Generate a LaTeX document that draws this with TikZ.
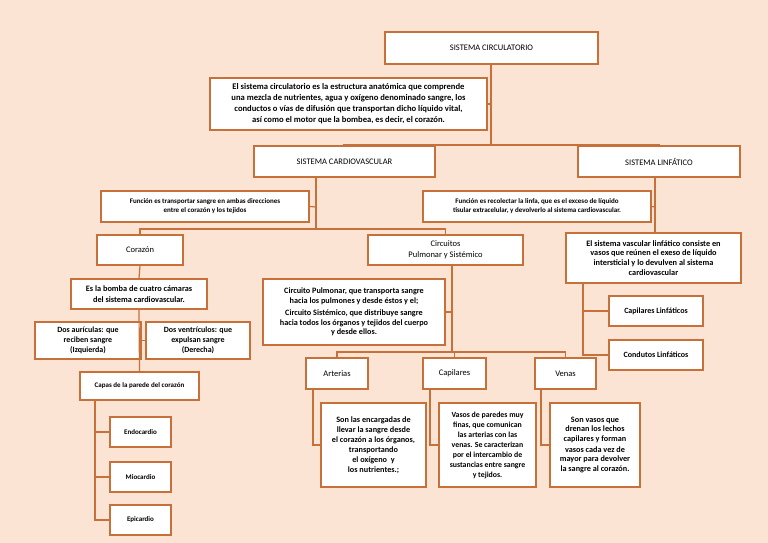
\documentclass[tikz,border=0pt]{standalone}
\usepackage{fontspec}
\setmainfont{Carlito}
\definecolor{bg}{HTML}{FCE4D4}
\definecolor{bc}{HTML}{C7703A}
\begin{document}
\begin{tikzpicture}[x=1pt,y=-1pt,
 box/.style={draw=bc,fill=white,line width=1.2pt,align=center,inner sep=1pt,font=\fontsize{8.5}{11}\selectfont},
 sm/.style={font=\fontsize{7}{9}\selectfont\bfseries},
 ln/.style={draw=bc,line width=1.2pt}]
\fill[bg] (0,0) rectangle (768,543);
\useasboundingbox (0,0) rectangle (768,543);
\newcommand\bx[7]{\node[box,#7,minimum width=#4-#2,minimum height=#5-#3] (#1) at ({(#2+#4)/2},{(#3+#5)/2}) {#6};}
\bx{top}{385}{32}{598}{64}{SISTEMA CIRCULATORIO}{}
\bx{intro}{210}{78}{487}{130}{El sistema circulatorio es la estructura anatómica que comprende\\una mezcla de nutrientes, agua y oxígeno denominado sangre, los\\conductos o vías de difusión que transportan dicho líquido vital,\\así como el motor que la bombea, es decir, el corazón.}{font=\fontsize{8.6}{11}\selectfont\bfseries}
\bx{cardio}{254}{146}{435}{177}{SISTEMA CARDIOVASCULAR}{}
\bx{linf}{578}{146}{740}{177}{SISTEMA LINFÁTICO}{}
\bx{f1}{101}{191}{309}{222}{Función es transportar sangre en ambas direcciones\\entre el corazón y los tejidos}{sm}
\bx{f2}{423}{191}{651}{222}{Función es recolectar la linfa, que es el exceso de líquido\\tisular extracelular, y devolverlo al sistema cardiovascular.}{sm}
\bx{cor}{97}{235}{183}{265}{Corazón}{}
\bx{circ}{368}{235}{523}{265}{Circuitos\\Pulmonar\ y Sistémico}{}
\bx{vasc}{566}{233}{741}{283}{El sistema vascular linfático consiste en\\vasos que reúnen el exeso de líquido\\intersticial y lo devulven al sistema\\cardiovascular}{font=\fontsize{8.3}{9.8}\selectfont\bfseries}
\bx{bomba}{71}{279}{207}{309}{Es la bomba de cuatro cámaras\\del sistema cardiovascular.}{font=\fontsize{8.3}{10.5}\selectfont\bfseries}
\bx{pulm}{263}{279}{445}{345}{Circuito Pulmonar, que transporta sangre\\hacia los pulmones y desde éstos y el;\\[2pt]Circuito Sistémico, que distribuye sangre\\hacia todos los órganos y tejidos del cuerpo\\y desde ellos.}{font=\fontsize{8.2}{9.8}\selectfont\bfseries}
\bx{capl}{609}{296}{703}{326}{Capilares Linfáticos}{font=\fontsize{8}{10}\selectfont\bfseries}
\bx{cond}{609}{340}{703}{370}{Condutos Linfáticos}{font=\fontsize{8}{10}\selectfont\bfseries}
\bx{aur}{35}{322}{141}{359}{Dos aurículas: que\\reciben sangre\\(Izquierda)}{font=\fontsize{8}{9.8}\selectfont\bfseries}
\bx{ven}{146}{322}{250}{359}{Dos ventrículos: que\\expulsan sangre\\(Derecha)}{font=\fontsize{8}{9.8}\selectfont\bfseries}
\bx{capas}{80}{372}{199}{400}{Capas de la parede del corazón}{sm}
\bx{art}{306}{358}{368}{389}{Arterias}{}
\bx{cap}{423}{358}{486}{389}{Capilares}{}
\bx{ve}{535}{358}{596}{389}{Venas}{}
\bx{endo}{110}{417}{171}{447}{Endocardio}{sm}
\bx{mio}{110}{462}{171}{492}{Miocardio}{sm}
\bx{epi}{110}{505}{171}{535}{Epicardio}{sm}
\bx{d1}{321}{403}{426}{487}{Son las encargadas de\\llevar la sangre desde\\el corazón a los órganos,\\transportando\\el oxígeno\ \ y\\los nutrientes.;}{font=\fontsize{8.2}{10}\selectfont\bfseries}
\bx{d2}{439}{403}{536}{487}{Vasos de paredes muy\\finas, que comunican\\las arterias con las\\venas. Se caracterizan\\por el intercambio de\\sustancias entre sangre\\y tejidos.}{font=\fontsize{7.8}{10}\selectfont\bfseries}
\bx{d3}{550}{403}{640}{487}{Son vasos que\\drenan los lechos\\capilares y forman\\vasos cada vez de\\mayor para devolver\\la sangre al corazón.}{font=\fontsize{8.2}{10}\selectfont\bfseries}
% connectors
\draw[ln] (top.south -| 491,0) -- (491,145);
\draw[ln] (intro.east) -- (491,104);
\draw[ln] (cardio.north -| 344,0) |- (491,145) -| (linf.north -| 659,0);
\draw[ln] (cardio.south -| 316,0) -- (316,229);
\draw[ln] (f1.east) -- (316,207);
\draw[ln] (cor.north) |- (316,229) -| (circ.north);
\draw[ln] (linf.south -| 655,0) -- (vasc.north -| 655,0);
\draw[ln] (f2.east) -- (655,207);
\draw[ln] (vasc.south -| 583,0) |- (cond.west);
\draw[ln] (583,311) -- (capl.west);
\draw[ln] (cor.south) -- (bomba.north);
\draw[ln] (bomba.south) -- (capas.north);
\draw[ln] (aur.east) -- (ven.west);
\draw[ln] (capas.south -| 95,0) |- (epi.west);
\draw[ln] (95,432) -- (endo.west);
\draw[ln] (95,477) -- (mio.west);
\draw[ln] (circ.south -| 452,0) -- (452,352);
\draw[ln] (pulm.east) -- (452,312);
\draw[ln] (art.north) |- (452,352) -| (ve.north);
\draw[ln] (452,352) -| (cap.north);
\draw[ln] (art.south -| 313,0) |- (d1.west);
\draw[ln] (cap.south -| 430,0) |- (d2.west);
\draw[ln] (ve.south -| 541,0) |- (d3.west);
\end{tikzpicture}
\end{document}
